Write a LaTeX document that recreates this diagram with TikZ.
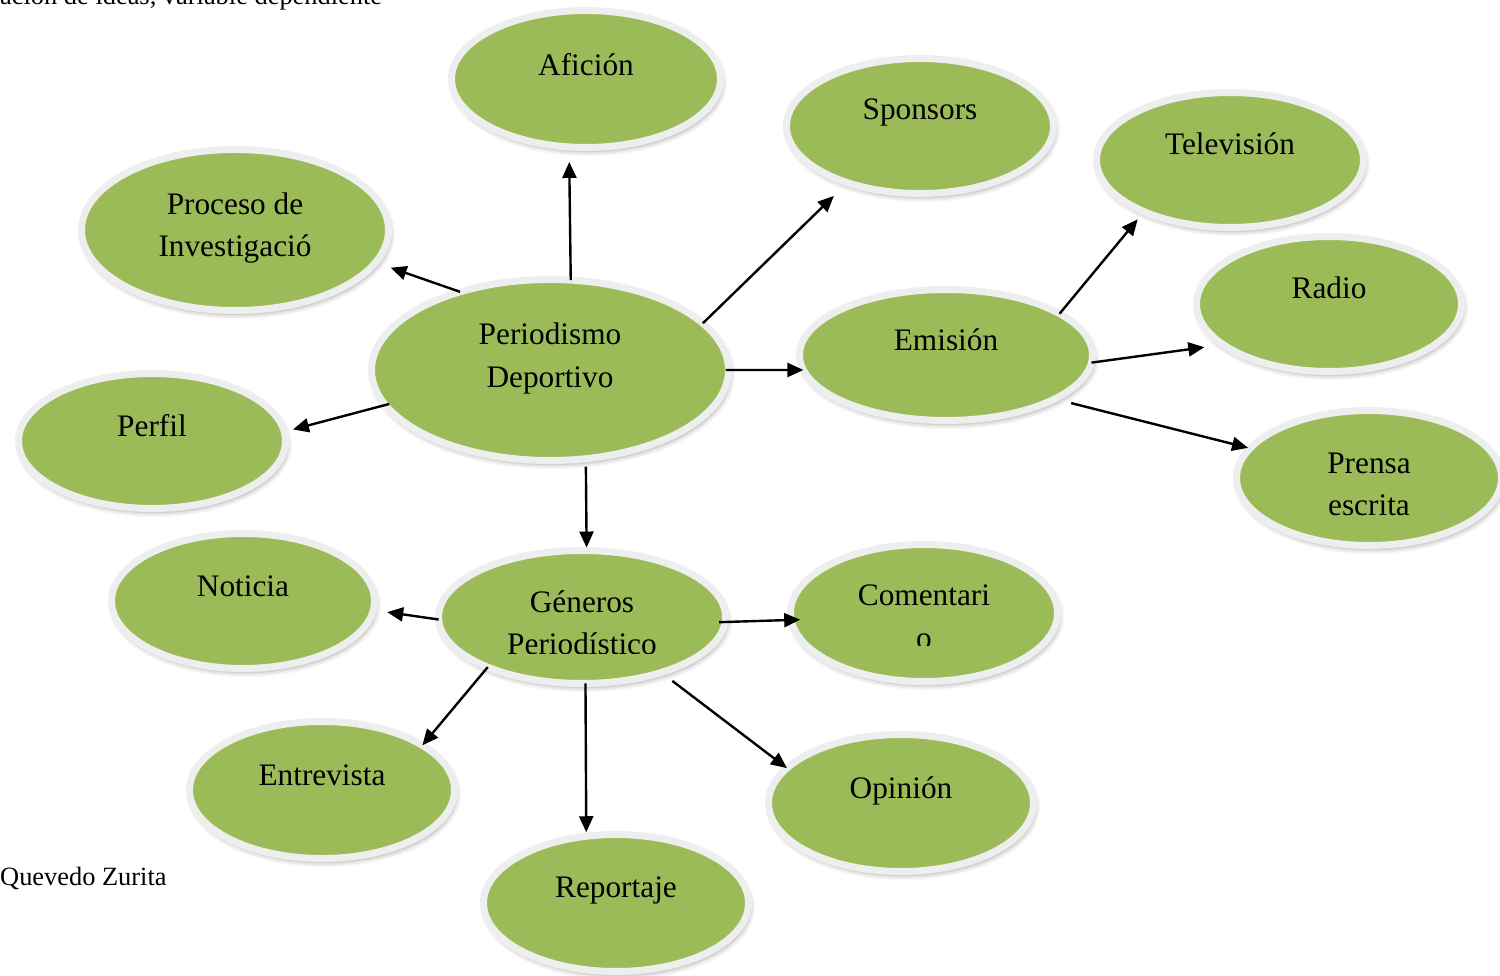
\documentclass[tikz,border=0pt]{standalone}
\usepackage{fontspec}
\setmainfont{Liberation Serif}
\usetikzlibrary{shapes.geometric,arrows.meta,shadows.blur}
\definecolor{bubgreen}{HTML}{9BBB59}
\definecolor{bubring}{HTML}{EEEEEE}
\tikzset{
  bub/.style 2 args={ellipse, fill=bubgreen, draw=bubring, line width=7pt,
    inner sep=0pt, outer sep=0pt, minimum width=#1, minimum height=#2,
    blur shadow={shadow xshift=2pt, shadow yshift=-4pt, shadow blur radius=5pt, shadow opacity=35}},
  lab/.style={anchor=base, inner sep=0pt, font=\fontsize{31.3}{42}\selectfont},
  captext/.style={anchor=base west, inner sep=0pt, font=\fontsize{26.4}{30}\selectfont},
  arr/.style={line width=2.4pt, -{Triangle[length=16pt,width=14pt]}},
}
\begin{document}
\begin{tikzpicture}[x=1pt,y=-1pt]
\useasboundingbox (0,0) rectangle (1500,976);
% captions
\node[captext] (t1) at (0,5) {ación de ideas, variable dependiente};
\node[captext] (t2) at (0,885) {Quevedo Zurita};
% bubbles
\node[bub={269pt}{137pt}] (af) at (586,79) {};
\node[bub={267pt}{135pt}] (sp) at (920,126) {};
\node[bub={267pt}{135pt}] (tv) at (1230,160) {};
\node[bub={307pt}{161pt}] (pi) at (235,230) {};
\node[bub={265pt}{135pt}] (ra) at (1329,304) {};
\node[bub={357pt}{181pt}] (pd) at (550,370) {};
\node[bub={293pt}{131pt}] (em) at (946,355) {};
\node[bub={267pt}{135pt}] (pe) at (152,441) {};
\node[bub={265pt}{135pt}] (pr) at (1369,478) {};
\node[bub={263pt}{135pt}] (no) at (243,601) {};
\node[bub={287pt}{133pt}] (ge) at (582,617) {};
\node[bub={267pt}{137pt}] (co) at (924,613) {};
\node[bub={265pt}{137pt}] (en) at (322,790) {};
\node[bub={265pt}{137pt}] (op) at (901,803) {};
\node[bub={265pt}{137pt}] (re) at (616,903) {};
% labels
\node[lab] (afT) at (586,76) {Afición};
\node[lab] (spT) at (920,120) {Sponsors};
\node[lab] (tvT) at (1230,155) {Televisión};
\node[lab] (piT1) at (235,215) {Proceso de};
\node[lab] (piT2) at (235,257) {Investigació};
\node[lab] (raT) at (1329,299) {Radio};
\node[lab] (pdT1) at (550,345) {Periodismo};
\node[lab] (pdT2) at (550,388) {Deportivo};
\node[lab] (emT) at (946,351) {Emisión};
\node[lab] (peT) at (152,436) {Perfil};
\node[lab] (prT1) at (1369,473) {Prensa};
\begin{scope}
\clip (1240,480) rectangle (1500,516);
\node[lab] (prT2) at (1369,515) {escrita};
\end{scope}
\node[lab] (noT) at (243,596) {Noticia};
\node[lab] (geT1) at (582,612) {Géneros};
\begin{scope}
\clip (440,620) rectangle (730,653);
\node[lab] (geT2) at (582,654) {Periodístico};
\end{scope}
\node[lab] (coT1) at (924,605) {Comentari};
\begin{scope}
\clip (790,615) rectangle (1060,645);
\node[lab] (coT2) at (924,648) {o};
\end{scope}
\node[lab] (enT) at (322,785) {Entrevista};
\node[lab] (opT) at (901,798) {Opinión};
\node[lab] (reT) at (616,897) {Reportaje};
% connectors
\draw[arr, shorten >=15pt] (pd.77.46) -- (af.256.76);
\draw[arr, shorten >=16pt] (pd.139) -- (pi.347);
\draw[arr, shorten >=19pt] (pd.17.6) -- (sp.218.4);
\draw[arr, shorten <=-3pt] (pd.0) -- (em.186.0);
\draw[arr, shorten >=9pt, shorten <=-4pt] (pd.192.4) -- (pe.4.5);
\draw[arr, shorten <=8pt, shorten >=3pt] (pd.292.1) -- (ge.86.56);
\draw[arr, shorten >=10pt] (em.20.3) -- (tv.211.2);
\draw[arr, shorten >=19pt] (em.357.3) -- (ra.201.3);
\draw[arr, shorten <=17pt, shorten >=2pt] (em.338.4) -- (pr.166.1);
\draw[arr, shorten >=14pt] (ge.181.2) -- (no.356.8);
\draw[arr, shorten <=-6pt, shorten >=-9pt] (ge.358.4) -- (co.183.45);
\draw[arr] (ge.208.4) -- (en.24.4);
\draw[arr, shorten >=4pt] (ge.273.44) -- (re.114.2);
\draw[arr, shorten <=14pt] (ge.325) -- (op.163.7);
\end{tikzpicture}
\end{document}
